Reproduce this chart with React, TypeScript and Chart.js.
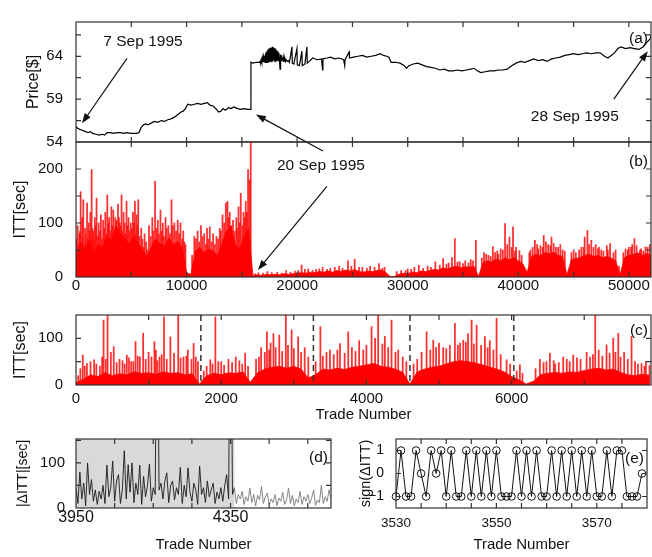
import React, { useEffect, useRef } from "react";
import { Chart, registerables } from "chart.js";

Chart.register(...registerables);

const FONT = '"Liberation Sans", Arial, Helvetica, sans-serif';
const PAGE_W = 652;
const PAGE_H = 557;

// ---------- Panel (a): price ----------
const priceSeries: [number, number][] = [
  [0, 55.8], [150, 55.6], [300, 55.5], [500, 55.4], [700, 55.3], [900, 55.2], [1100, 55.1], [1300, 55.2],
  [1500, 55.0], [1800, 54.9], [2100, 54.8], [2400, 54.9], [2600, 54.8], [2800, 55.1], [3100, 55.1], [3400, 55.0],
  [3700, 55.1], [4000, 55.1], [4300, 55.0], [4600, 55.1], [4900, 55.0], [5200, 55.0], [5500, 55.0], [5700, 55.1],
  [5900, 55.7], [6100, 56.0], [6300, 56.1], [6500, 56.0], [6800, 56.2], [7100, 56.4], [7400, 56.3], [7700, 56.5],
  [8000, 56.4], [8300, 56.6], [8600, 56.7], [8900, 56.9], [9100, 57.1], [9300, 57.3], [9500, 57.5], [9700, 57.6],
  [9900, 57.9], [10100, 58.4], [10400, 58.3], [10700, 58.4], [11000, 58.5], [11300, 58.4], [11600, 58.5], [11900, 58.6],
  [12100, 58.3], [12400, 58.2], [12700, 57.8], [12900, 57.5], [13100, 57.6], [13300, 57.9], [13500, 57.7], [13800, 58.0],
  [14000, 57.9], [14300, 58.1], [14600, 57.9], [14900, 57.8], [15200, 57.9], [15500, 57.8], [15800, 57.8], [15820, 63.3],
  [16000, 63.2], [16300, 63.3], [16600, 63.3], [16650, 63.4], [16700, 63.3], [16750, 63.6], [16800, 63.3], [16850, 63.8],
  [16900, 63.3], [16950, 63.9], [17000, 63.3], [17050, 64.1], [17100, 63.3], [17150, 64.4], [17200, 63.3], [17250, 64.6],
  [17300, 63.3], [17350, 64.8], [17400, 63.4], [17450, 64.9], [17500, 63.3], [17550, 65.0], [17600, 63.4], [17650, 65.0],
  [17700, 63.3], [17750, 65.1], [17800, 63.4], [17850, 65.0], [17900, 63.5], [17950, 64.9], [18000, 63.4], [18050, 64.9],
  [18100, 63.5], [18150, 64.7], [18200, 63.6], [18250, 64.6], [18300, 63.5], [18350, 64.4], [18400, 63.6], [18450, 62.5],
  [18500, 64.2], [18550, 63.5], [18600, 64.1], [18650, 63.6], [18700, 63.9], [18750, 63.4], [18800, 63.8], [18850, 63.5],
  [18900, 63.7], [18950, 63.4], [19000, 63.6], [19100, 63.4], [19200, 63.5], [19300, 63.3], [19530, 65.1], [19560, 63.2],
  [19700, 63.1], [19980, 64.9], [20010, 63.0], [20200, 62.9], [20430, 64.6], [20460, 62.9], [20700, 63.1], [20880, 65.1],
  [20910, 63.2], [21100, 63.4], [21400, 63.8], [21800, 63.6], [22200, 63.7], [22300, 62.4], [22330, 63.7], [22700, 63.8],
  [23000, 63.9], [23400, 63.7], [23800, 63.8], [24200, 63.6], [24300, 62.9], [24330, 63.6], [24700, 64.5], [24730, 63.8],
  [25100, 63.9], [25500, 64.0], [25900, 64.1], [26300, 63.9], [26700, 64.0], [27100, 64.1], [27500, 64.3], [27800, 64.1],
  [28100, 64.0], [28300, 63.9], [28500, 63.3], [28900, 63.3], [29300, 63.2], [29700, 62.9], [29900, 62.6], [30100, 62.9],
  [30500, 63.1], [30900, 63.2], [31300, 63.0], [31700, 62.8], [32100, 62.7], [32500, 62.6], [32900, 62.4], [33300, 62.5],
  [33700, 62.3], [34100, 62.3], [34500, 62.4], [34900, 62.3], [35300, 62.4], [35700, 62.5], [36000, 62.6], [36300, 62.3],
  [36600, 62.1], [37000, 62.2], [37400, 62.3], [37800, 62.3], [38200, 62.4], [38600, 62.4], [39000, 62.5], [39400, 62.9],
  [39800, 63.2], [40200, 63.4], [40600, 63.3], [41000, 63.5], [41400, 63.7], [41800, 63.5], [42200, 63.6], [42600, 63.4],
  [43000, 63.7], [43400, 63.8], [43800, 63.9], [44200, 64.1], [44600, 64.2], [45000, 64.3], [45400, 64.2], [45800, 64.3],
  [46200, 64.4], [46600, 64.3], [47000, 64.4], [47400, 64.4], [47800, 64.0], [48100, 63.8], [48400, 64.1], [48700, 64.4],
  [49000, 64.9], [49300, 65.1], [49700, 64.9], [50100, 65.0], [50500, 64.9], [50900, 64.8], [51300, 65.1], [51600, 65.6],
  [51900, 66.0], [52000, 66.3],
];
const priceTicks = [54, 56.5, 59, 61.5, 64, 66.5];
const priceLabels = [54, 59, 64];
const tradeTicks = [0, 5000, 10000, 15000, 20000, 25000, 30000, 35000, 40000, 45000, 50000];
const tradeLabels = [0, 10000, 20000, 30000, 40000, 50000];
const annotTextsA = ["7 Sep 1995", "28 Sep 1995"];
const annotTextAtA: [number, number][] = [[6057, 65.7], [45110, 57.0]];
const arrowFromA: [number, number][] = [[4610, 63.75], [48640, 59.0], [22330, 52.96]];
const arrowToA: [number, number][] = [[542, 56.18], [51710, 64.6], [16270, 57.2]];

// ---------- Panel (b): ITT, whole period ----------
const ittBStep = 400;
const ittBBase = [
  40, 62, 50, 68, 45, 60, 55, 75, 68, 95, 80, 72, 60, 75, 65, 50, 38, 55, 70, 62,
  58, 72, 60, 66, 55, 8, 5, 48, 55, 45, 52, 48, 40, 62, 85, 95, 60, 52, 75, 90,
  3, 4, 3, 5, 4, 5, 4, 6, 5, 6, 7, 8, 7, 9, 8, 10, 9, 11, 9, 12,
  10, 13, 11, 14, 10, 9, 11, 10, 12, 13, 9, 1, 1, 5, 7, 6, 9, 8, 11, 10,
  12, 14, 13, 17, 15, 18, 20, 17, 19, 18, 20, 1, 26, 30, 28, 33, 30, 35, 32, 36,
  30, 25, 9, 38, 42, 40, 45, 43, 46, 40, 38, 4, 32, 34, 36, 40, 42, 38, 40, 36,
  38, 35, 30, 4, 36, 40, 42, 45, 40, 43, 41,
];
const ittBSpikes: [number, number][] = [
  [150, 95], [300, 80], [420, 158], [560, 110], [660, 143], [820, 90], [1000, 137], [1150, 100], [1300, 120],
  [1415, 199], [1550, 85], [1700, 110], [1860, 146], [2050, 100], [2250, 115], [2450, 105], [2650, 120],
  [2830, 152], [3000, 110], [3200, 130], [3370, 124], [3550, 110], [3800, 135], [3950, 100], [4120, 152],
  [4300, 120], [4570, 140], [4750, 110], [4950, 100], [5150, 120], [5330, 140], [5480, 115], [5630, 143],
  [5900, 90], [6200, 80], [6600, 95], [6900, 110], [7150, 177], [7400, 105], [7640, 124], [7850, 100],
  [8100, 110], [8350, 95], [8640, 143], [8900, 100], [9200, 105], [9450, 100], [9700, 85], [9900, 60],
  [10700, 75], [11000, 85], [11300, 95], [11600, 80], [11850, 90], [12100, 93], [12400, 80], [12700, 75],
  [13000, 90], [13250, 115], [13550, 137], [13700, 140], [13900, 120], [14200, 105], [14500, 110], [14700, 130],
  [14900, 155], [15150, 120], [15350, 140], [15560, 199], [15700, 180], [15800, 254],
  [50, 70], [230, 60], [370, 85], [480, 65], [610, 75], [740, 60], [900, 80], [1080, 70], [1230, 85],
  [1360, 65], [1480, 90], [1620, 70], [1780, 95], [1950, 75], [2150, 85], [2350, 70], [2550, 90], [2740, 80],
  [2920, 100], [3100, 85], [3280, 95], [3460, 80], [3650, 105], [3720, 90], [3880, 110], [4040, 95], [4200, 85],
  [4400, 100], [4480, 80], [4650, 95], [4850, 85], [5050, 90], [5240, 100], [5400, 80], [5550, 95], [5750, 75],
  [6000, 70], [6100, 55], [6350, 65], [6450, 50], [6750, 75], [7000, 85], [7280, 90], [7500, 80], [7750, 85],
  [7950, 75], [8200, 90], [8500, 80], [8750, 95], [9050, 85], [9330, 80], [9600, 70], [9800, 65], [10500, 40],
  [10850, 70], [11150, 65], [11450, 75], [11750, 60], [11950, 70], [12250, 65], [12550, 60], [12850, 70],
  [13100, 85], [13400, 100], [13800, 110], [14050, 95], [14350, 85], [14600, 90], [14800, 100], [15050, 95],
  [15250, 110], [15450, 120],
  [16500, 8], [17300, 10], [18200, 9], [19000, 12], [19800, 11], [20400, 22], [21000, 15], [21700, 14],
  [22300, 18], [23000, 16], [23800, 20], [24600, 30], [25200, 33], [25900, 18], [26600, 20], [27400, 25],
  [27900, 18], [29400, 12], [30000, 15], [30600, 18], [31000, 22], [31800, 20], [32500, 28], [33200, 34],
  [33700, 26], [34000, 36], [34260, 71], [34700, 28], [35200, 30], [35700, 32], [36160, 68], [36900, 45],
  [37300, 40], [37700, 56], [38100, 48], [38400, 52], [38800, 99], [39000, 60], [39200, 74], [39520, 93],
  [39800, 55], [40100, 49], [41000, 45], [41500, 68], [41800, 52], [42000, 58], [42300, 77], [42700, 60],
  [43000, 74], [43400, 55], [43800, 60], [44000, 50], [45000, 50], [45200, 45], [45700, 55], [46000, 74],
  [46250, 86], [46600, 68], [47000, 60], [47300, 55], [47500, 50], [48000, 58], [48300, 62], [48800, 50],
  [49700, 52], [50000, 55], [50300, 60], [50500, 71], [51000, 50], [51300, 48], [51500, 56], [51900, 60],
  [16200, 6], [16900, 7], [17700, 8], [18600, 7], [19400, 9], [20100, 12], [20700, 14], [21400, 12],
  [22000, 15], [22700, 14], [23400, 18], [24100, 16], [24900, 20], [25600, 18], [26300, 16], [27000, 18],
  [27700, 16], [29000, 10], [29800, 12], [30300, 14], [31400, 16], [32100, 18], [32900, 22], [33500, 24],
  [34500, 28], [35000, 25], [35500, 26], [35900, 30], [36700, 35], [37100, 42], [37500, 38], [37900, 45],
  [38200, 42], [38600, 50], [39400, 55], [39700, 48], [40300, 40], [41100, 50], [41300, 55], [41700, 60],
  [42200, 55], [42500, 65], [42900, 58], [43200, 62], [43600, 55], [44200, 48], [44800, 45], [45500, 50],
  [45900, 55], [46400, 60], [46800, 55], [47200, 52], [47700, 48], [48100, 50], [48600, 45], [49100, 20],
  [49500, 45], [49900, 50], [50200, 55], [50700, 58], [51100, 52], [51700, 55],
];
const ittBTicks = [0, 50, 100, 150, 200];
const ittBLabels = [0, 100, 200];
const annotTextB = "20 Sep 1995";
const annotTextAtB: [number, number] = [22150, 207];
const arrowFromB: [number, number] = [22690, 168];
const arrowToB: [number, number] = [16450, 13];

// ---------- Panel (c): ITT, first trades ----------
const ittCStep = 100;
const ittCBase = [
  5, 12, 22, 18, 26, 20, 24, 22, 28, 25, 26, 23, 28, 25, 26, 22, 24, 2, 20, 25,
  22, 26, 25, 28, 6, 26, 34, 38, 40, 36, 40, 34, 15, 22, 34, 32, 36, 33, 38, 40,
  43, 46, 40, 38, 34, 27, 2, 28, 34, 38, 40, 45, 50, 52, 50, 47, 43, 38, 34, 28,
  18, 11, 2, 8, 22, 25, 27, 25, 28, 27, 31, 34, 36, 32, 34, 27, 22, 20, 23, 21,
];
const ittCSpikes: [number, number][] = [
  [93, 64], [150, 46], [250, 54], [330, 40], [380, 139], [435, 150], [480, 70], [520, 82], [600, 55],
  [700, 64], [760, 50], [820, 93], [880, 60], [925, 111], [1000, 70], [1080, 93], [1100, 75], [1150, 60],
  [1213, 146], [1300, 103], [1408, 150], [1480, 60], [1540, 75], [1620, 89], [1680, 50], [1800, 40],
  [1850, 54], [1920, 146], [2000, 50], [2100, 55], [2200, 60], [2330, 68], [2550, 80], [2630, 114],
  [2680, 90], [2720, 110], [2800, 107], [2890, 150], [2970, 118], [3060, 103], [3150, 80], [3366, 125],
  [3498, 75], [3636, 89], [3750, 114], [3900, 95], [3957, 75], [4071, 125], [4120, 100], [4162, 150],
  [4254, 104], [4346, 139], [4438, 75], [4500, 60], [4829, 114], [4921, 96], [5000, 90], [5058, 80],
  [5150, 85], [5219, 132], [5334, 96], [5400, 110], [5449, 139], [5518, 128], [5632, 104], [5700, 95],
  [5793, 143], [5931, 54], [6114, 43], [6390, 55], [6527, 68], [6600, 45], [6711, 60], [6849, 64],
  [7033, 70], [7152, 150], [7200, 75], [7308, 86], [7400, 100], [7469, 111], [7550, 70], [7652, 104],
  [7790, 46], [7850, 50],
  [30, 20], [60, 35], [120, 40], [200, 50], [280, 45], [360, 60], [410, 55], [560, 48], [640, 52], [670, 45],
  [730, 58], [790, 50], [850, 62], [960, 55], [1040, 60], [1120, 52], [1180, 65], [1250, 55], [1350, 68],
  [1440, 58], [1520, 62], [1590, 55], [1650, 60], [1760, 30], [1880, 45], [1960, 50], [2040, 42], [2150, 48],
  [2250, 52], [2290, 45], [2370, 40], [2480, 55], [2520, 60], [2600, 70], [2660, 75], [2750, 80], [2840, 72],
  [2920, 85], [3000, 78], [3100, 70], [3200, 60], [3300, 50], [3400, 62], [3450, 70], [3550, 65], [3600, 75],
  [3700, 68], [3800, 80], [3850, 72], [4000, 85], [4220, 88], [4300, 80], [4400, 70], [4550, 50], [4650, 45],
  [4700, 55], [4760, 70], [4880, 75], [4960, 80], [5100, 78], [5260, 85], [5290, 90], [5370, 92], [5480, 88],
  [5580, 85], [5670, 80], [5750, 75], [5850, 65], [5980, 45], [6070, 30], [6150, 25], [6330, 35], [6440, 48],
  [6480, 50], [6580, 52], [6650, 48], [6760, 55], [6800, 50], [6900, 58], [6950, 55], [7080, 60], [7120, 65],
  [7250, 62], [7350, 68], [7430, 70], [7500, 60], [7600, 55], [7700, 50], [7740, 45], [7830, 40], [7900, 42],
];
const dayBoundaries = [1720, 3270, 4600, 6030];
const ittCTicks = [0, 1000, 2000, 3000, 4000, 5000, 6000, 7000];
const ittCLabels = [0, 2000, 4000, 6000];
const ittCYTicks = [0, 50, 100];
const ittCYLabels = [0, 100];

// ---------- Panel (d): |dITT| ----------
const dittStart = 3950;
const dittStep = 5;
const dittValues = [
  45, 10, 80, 20, 55, 5, 100, 30, 63, 15, 40, 8, 37, 20, 50, 10, 95, 25, 45, 104,
  15, 60, 74, 10, 40, 127, 20, 96, 35, 100, 12, 55, 30, 95, 8, 70, 25, 50, 97, 15,
  45, 30, 600, 40, 55, 20, 60, 78, 12, 50, 60, 18, 45, 30, 90, 10, 50, 25, 89, 35,
  15, 55, 40, 8, 93, 30, 45, 12, 60, 25, 40, 55, 10, 35, 20, 45, 15, 50, 74, 20,
  600, 30, 45, 10, 30, 20, 37, 8, 25, 15, 44, 12, 30, 5, 28, 18, 48, 10, 25, 33,
  8, 20, 12, 30, 5, 22, 15, 35, 8, 18, 44, 10, 28, 5, 20, 12, 37, 8, 25, 15,
  30, 10, 22, 40, 6, 18, 12, 50, 10, 25, 15, 40, 20,
];
const shadeRange = [3950, 4360];
const dittXTicks = [3950, 4050, 4150, 4250, 4350, 4450, 4550];
const dittXLabels = [3950, 4350];
const dittYTicks = [0, 50, 100, 150];
const dittYLabels = [0, 100];

// ---------- Panel (e): sign(dITT) ----------
const signStart = 3530;
const signValues = [
  -1, 1, -1, -1, 1, 0, -1, 1, 0, 1, -1, 1, -1, -1, 1, -1, 1, -1, 1, -1,
  1, -1, -1, -1, 1, -1, 1, -1, 1, -1, -1, 1, -1, 1, -1, 1, -1, 1, -1, 1,
  -1, -1, 1, -1, 1, 1, -1, -1, -1, 0,
];
const signXTicks = [3535, 3540, 3545, 3550, 3555, 3560, 3565, 3570, 3575];
const signXLabels = [3530, 3550, 3570];
const signYTicks = [-1, 0, 1];

// ---------- helpers ----------
const fmt = (v: number) => (v < 0 ? "\u2212" + Math.abs(v) : String(v));

function axisX(o: any) {
  return {
    type: "linear",
    min: o.min,
    max: o.max,
    offset: false,
    grid: { display: false, drawTicks: false },
    border: { display: false },
    afterBuildTicks: (s: any) => {
      s.ticks = Array.from(new Set([...o.ticks, ...o.labels])).map((v: any) => ({ value: v }));
    },
    afterFit: (s: any) => {
      s.height = o.height;
    },
    ticks: {
      autoSkip: false,
      maxRotation: 0,
      minRotation: 0,
      padding: o.pad,
      color: "#111",
      font: { family: FONT, size: o.size },
      callback: (v: any) => (o.labels.includes(v) ? fmt(v) : ""),
    },
    title: o.title
      ? { display: true, text: o.title, color: "#111", font: { family: FONT, size: 15 }, padding: { top: 0, bottom: o.titlePad } }
      : { display: false },
  };
}

function axisY(o: any) {
  return {
    type: "linear",
    min: o.min,
    max: o.max,
    grid: { display: false, drawTicks: false },
    border: { display: false },
    afterBuildTicks: (s: any) => {
      s.ticks = o.ticks.map((v: any) => ({ value: v }));
    },
    afterFit: (s: any) => {
      s.width = o.width;
    },
    ticks: {
      autoSkip: false,
      padding: o.pad,
      color: "#111",
      font: { family: FONT, size: o.size },
      callback: (v: any) => (o.labels.includes(v) ? fmt(v) : ""),
    },
    title: {
      display: true,
      text: o.title,
      color: "#111",
      font: { family: FONT, size: o.titleSize },
      padding: { top: o.titlePad, bottom: 0 },
    },
  };
}

function baseOptions(pad: any, x: any, y: any) {
  return {
    animation: false,
    responsive: false,
    devicePixelRatio: 1,
    events: [],
    layout: { padding: pad },
    plugins: { legend: { display: false }, tooltip: { enabled: false } },
    scales: { x, y },
  };
}

function drawArrow(ctx: any, x0: number, y0: number, x1: number, y1: number) {
  ctx.save();
  ctx.strokeStyle = "#111";
  ctx.fillStyle = "#111";
  ctx.lineWidth = 1.2;
  const ang = Math.atan2(y1 - y0, x1 - x0);
  const L = 10;
  const Wd = 3.6;
  ctx.beginPath();
  ctx.moveTo(x0, y0);
  ctx.lineTo(x1 - Math.cos(ang) * L * 0.8, y1 - Math.sin(ang) * L * 0.8);
  ctx.stroke();
  ctx.beginPath();
  ctx.moveTo(x1, y1);
  ctx.lineTo(x1 - L * Math.cos(ang) + Wd * Math.sin(ang), y1 - L * Math.sin(ang) - Wd * Math.cos(ang));
  ctx.lineTo(x1 - L * Math.cos(ang) - Wd * Math.sin(ang), y1 - L * Math.sin(ang) + Wd * Math.cos(ang));
  ctx.closePath();
  ctx.fill();
  ctx.restore();
}

function framePlugin(id: string, label: string, labelDy: number, before?: (c: any) => void, after?: (c: any) => void) {
  return {
    id,
    beforeDatasetsDraw(chart: any) {
      if (before) before(chart);
    },
    afterDraw(chart: any) {
      const { ctx, chartArea: a, scales } = chart;
      ctx.save();
      ctx.strokeStyle = "#333";
      ctx.lineWidth = 1.2;
      ctx.strokeRect(a.left, a.top, a.right - a.left, a.bottom - a.top);
      const t = 5;
      ctx.beginPath();
      scales.x.ticks.forEach((tk: any) => {
        const px = scales.x.getPixelForValue(tk.value);
        if (px < a.left + 1 || px > a.right - 1) return;
        ctx.moveTo(px, a.bottom);
        ctx.lineTo(px, a.bottom - t);
        ctx.moveTo(px, a.top);
        ctx.lineTo(px, a.top + t);
      });
      scales.y.ticks.forEach((tk: any) => {
        const py = scales.y.getPixelForValue(tk.value);
        if (py < a.top + 1 || py > a.bottom - 1) return;
        ctx.moveTo(a.left, py);
        ctx.lineTo(a.left + t, py);
        ctx.moveTo(a.right, py);
        ctx.lineTo(a.right - t, py);
      });
      ctx.stroke();
      ctx.fillStyle = "#111";
      ctx.font = `15.5px ${FONT}`;
      ctx.textAlign = "right";
      ctx.textBaseline = "middle";
      ctx.fillText(label, a.right - 3, a.top + labelDy);
      ctx.restore();
      if (after) after(chart);
    },
  };
}

function textAt(ctx: any, text: string, x: number, y: number) {
  ctx.save();
  ctx.fillStyle = "#111";
  ctx.font = `15.5px ${FONT}`;
  ctx.textAlign = "center";
  ctx.textBaseline = "middle";
  ctx.fillText(text, x, y);
  ctx.restore();
}

function redSeries(base: number[], step: number, spikes: [number, number][]) {
  return [
    {
      type: "line",
      data: base.map((v, i) => ({ x: i * step, y: v })),
      borderColor: "#ff0000",
      backgroundColor: "#ff0000",
      borderWidth: 0.8,
      pointRadius: 0,
      tension: 0,
      fill: "origin",
    },
    {
      type: "bar",
      data: spikes.map(([x, y]) => ({ x, y })),
      backgroundColor: "rgba(255,10,10,0.85)",
      barThickness: 1.1,
    },
  ];
}

// ---------- chart configs ----------
function configA() {
  return {
    type: "line",
    data: {
      datasets: [
        {
          data: priceSeries.map(([x, y]) => ({ x, y })),
          borderColor: "#000",
          borderWidth: 1.2,
          pointRadius: 0,
          tension: 0,
          fill: false,
        },
      ],
    },
    options: baseOptions(
      { left: 0, top: 7, right: 1, bottom: 415 },
      axisX({ min: 0, max: 52000, ticks: tradeTicks, labels: [], size: 15, pad: 0, height: 0 }),
      axisY({ min: 54, max: 68, ticks: priceTicks, labels: priceLabels, size: 15, pad: 13, width: 76, title: "Price[$]", titleSize: 16, titlePad: 24.4 })
    ),
    plugins: [
      framePlugin("frameA", "(a)", 17, undefined, (chart: any) => {
        const { ctx, scales } = chart;
        const X = (v: number) => scales.x.getPixelForValue(v);
        const Y = (v: number) => scales.y.getPixelForValue(v);
        annotTextsA.forEach((txt, i) => textAt(ctx, txt, X(annotTextAtA[i][0]), Y(annotTextAtA[i][1])));
        arrowFromA.forEach((f, i) => drawArrow(ctx, X(f[0]), Y(f[1]), X(arrowToA[i][0]), Y(arrowToA[i][1])));
      }),
    ],
  };
}

function configB() {
  return {
    type: "line",
    data: { datasets: redSeries(ittBBase, ittBStep, ittBSpikes) },
    options: baseOptions(
      { left: 0, top: 142, right: 1, bottom: 250 },
      axisX({ min: 0, max: 52000, ticks: tradeTicks, labels: tradeLabels, size: 15, pad: 0, height: 30 }),
      axisY({ min: 0, max: 250, ticks: ittBTicks, labels: ittBLabels, size: 15, pad: 13, width: 76, title: "ITT[sec]", titleSize: 16, titlePad: 11.4 })
    ),
    plugins: [
      framePlugin("frameB", "(b)", 20, undefined, (chart: any) => {
        const { ctx, scales } = chart;
        const X = (v: number) => scales.x.getPixelForValue(v);
        const Y = (v: number) => scales.y.getPixelForValue(v);
        textAt(ctx, annotTextB, X(annotTextAtB[0]), Y(annotTextAtB[1]));
        drawArrow(ctx, X(arrowFromB[0]), Y(arrowFromB[1]), X(arrowToB[0]), Y(arrowToB[1]));
      }),
    ],
  };
}

function configC() {
  return {
    type: "line",
    data: { datasets: redSeries(ittCBase, ittCStep, ittCSpikes) },
    options: baseOptions(
      { left: 0, top: 315, right: 1, bottom: 132 },
      axisX({ min: 0, max: 7920, ticks: ittCTicks, labels: ittCLabels, size: 15, pad: 5, height: 40, title: "Trade Number", titlePad: 1 }),
      axisY({ min: 0, max: 150, ticks: ittCYTicks, labels: ittCYLabels, size: 15, pad: 13, width: 76, title: "ITT[sec]", titleSize: 16, titlePad: 11.4 })
    ),
    plugins: [
      framePlugin("frameC", "(c)", 16, undefined, (chart: any) => {
        const { ctx, scales, chartArea: a } = chart;
        ctx.save();
        ctx.strokeStyle = "#333";
        ctx.lineWidth = 1.5;
        ctx.setLineDash([6, 4]);
        dayBoundaries.forEach((d) => {
          const px = scales.x.getPixelForValue(d);
          ctx.beginPath();
          ctx.moveTo(px, a.top);
          ctx.lineTo(px, a.bottom);
          ctx.stroke();
        });
        ctx.restore();
      }),
    ],
  };
}

function configD() {
  return {
    type: "line",
    data: {
      datasets: [
        {
          data: dittValues.map((v, i) => ({ x: dittStart + i * dittStep, y: v })),
          borderColor: "#1a1a1a",
          borderWidth: 0.9,
          pointRadius: 0,
          tension: 0,
          fill: false,
          segment: {
            borderColor: (c: any) => (c.p0.parsed.x < shadeRange[1] ? "#1a1a1a" : "#7a7a7a"),
          },
        },
      ],
    },
    options: baseOptions(
      { left: 0, top: 439, right: 321, bottom: 3 },
      axisX({ min: 3950, max: 4610, ticks: dittXTicks, labels: dittXLabels, size: 16, pad: 0, height: 46, title: "Trade Number", titlePad: 0.5 }),
      axisY({ min: 0, max: 153, ticks: dittYTicks, labels: dittYLabels, size: 15, pad: 11, width: 76, title: "|\u0394ITT|[sec]", titleSize: 14, titlePad: 14.6 })
    ),
    plugins: [
      framePlugin(
        "frameD",
        "(d)",
        19,
        (chart: any) => {
          const { ctx, scales, chartArea: a } = chart;
          const x0 = scales.x.getPixelForValue(shadeRange[0]);
          const x1 = scales.x.getPixelForValue(shadeRange[1]);
          ctx.save();
          ctx.fillStyle = "#d9d9d9";
          ctx.fillRect(x0, a.top, x1 - x0, a.bottom - a.top);
          ctx.restore();
        },
        undefined
      ),
    ],
  };
}

function configE() {
  return {
    type: "line",
    data: {
      datasets: [
        {
          data: signValues.map((v, i) => ({ x: signStart + i, y: v })),
          borderColor: "#111",
          borderWidth: 1,
          pointRadius: 3.8,
          pointBorderWidth: 1,
          pointBorderColor: "#111",
          pointBackgroundColor: "rgba(0,0,0,0)",
          tension: 0,
          fill: false,
          clip: false,
        },
      ],
    },
    options: baseOptions(
      { left: 330, top: 439, right: 1, bottom: 3 },
      axisX({ min: 3530, max: 3580, ticks: signXTicks, labels: signXLabels, size: 13.5, pad: 7, height: 46, title: "Trade Number", titlePad: 0 }),
      axisY({ min: -1.5, max: 1.5, ticks: signYTicks, labels: signYTicks, size: 14, pad: 12, width: 66, title: "sign(\u0394ITT)", titleSize: 14.5, titlePad: 27.3 })
    ),
    plugins: [framePlugin("frameE", "(e)", 20)],
  };
}

export default function App() {
  const rA = useRef<HTMLCanvasElement>(null);
  const rB = useRef<HTMLCanvasElement>(null);
  const rC = useRef<HTMLCanvasElement>(null);
  const rD = useRef<HTMLCanvasElement>(null);
  const rE = useRef<HTMLCanvasElement>(null);

  useEffect(() => {
    const charts = [
      new Chart(rA.current as any, configA() as any),
      new Chart(rB.current as any, configB() as any),
      new Chart(rC.current as any, configC() as any),
      new Chart(rD.current as any, configD() as any),
      new Chart(rE.current as any, configE() as any),
    ];
    return () => charts.forEach((c) => c.destroy());
  }, []);

  const cs: React.CSSProperties = { position: "absolute", left: 0, top: 0, width: PAGE_W, height: PAGE_H };
  return (
    <div style={{ position: "absolute", left: 0, top: 0, width: PAGE_W, height: PAGE_H, background: "#fff", overflow: "hidden" }}>
      <canvas ref={rA} width={PAGE_W} height={PAGE_H} style={cs} />
      <canvas ref={rB} width={PAGE_W} height={PAGE_H} style={cs} />
      <canvas ref={rC} width={PAGE_W} height={PAGE_H} style={cs} />
      <canvas ref={rD} width={PAGE_W} height={PAGE_H} style={cs} />
      <canvas ref={rE} width={PAGE_W} height={PAGE_H} style={cs} />
    </div>
  );
}
